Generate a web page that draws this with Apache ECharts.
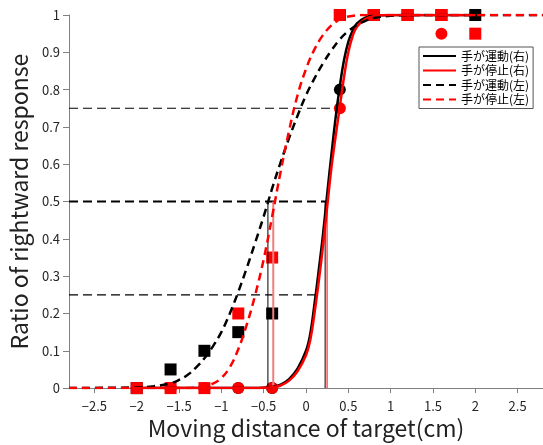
<!DOCTYPE html>
<html>
<head>
<meta charset="utf-8">
<script src="https://cdn.jsdelivr.net/npm/echarts@6/dist/echarts.min.js"></script>
<style>
html, body { margin: 0; padding: 0; background: #fff; }
#chart { width: 543px; height: 445px; }
</style>
</head>
<body>
<div id="chart"></div>
<script>
// Axis ticks
const xTicks = [-2.5, -2, -1.5, -1, -0.5, 0, 0.5, 1, 1.5, 2, 2.5];
const yTicks = [0, 0.1, 0.2, 0.3, 0.4, 0.5, 0.6, 0.7, 0.8, 0.9, 1];

// Measured response ratios at each target displacement
const stimX = [-2, -1.6, -1.2, -0.8, -0.4, 0.4, 0.8, 1.2, 1.6, 2];
const movingRightObs = [0, 0, 0, 0, 0, 0.8, 1, 1, 1, 1];
const stoppedRightObs = [0, 0, 0, 0, 0, 0.75, 1, 1, 0.95, 1];
const movingLeftObs = [0, 0.05, 0.1, 0.15, 0.2, 1, 1, 1, 1, 1];
const stoppedLeftObs = [0, 0, 0, 0.2, 0.35, 1, 1, 1, 1, 0.95];

// Fitted psychometric curves, [x, ratio]
const movingRightCurve = [[-2, 0], [-0.6, 0], [-0.5, 0.001], [-0.4, 0.003], [-0.3, 0.009], [-0.2, 0.024],
  [-0.1, 0.052], [0, 0.1], [0.05, 0.145], [0.1, 0.225], [0.15, 0.315], [0.2, 0.41], [0.25, 0.52],
  [0.3, 0.625], [0.35, 0.725], [0.4, 0.81], [0.45, 0.88], [0.5, 0.928], [0.55, 0.958], [0.6, 0.977],
  [0.7, 0.993], [0.8, 0.998], [1, 1], [2, 1]];
const stoppedRightCurve = [[-2, 0], [-0.6, 0], [-0.5, 0.001], [-0.4, 0.002], [-0.3, 0.007], [-0.2, 0.02],
  [-0.1, 0.045], [0, 0.088], [0.05, 0.128], [0.1, 0.2], [0.15, 0.285], [0.2, 0.38], [0.25, 0.485],
  [0.3, 0.59], [0.35, 0.675], [0.4, 0.755], [0.45, 0.835], [0.5, 0.9], [0.55, 0.943], [0.6, 0.968],
  [0.7, 0.989], [0.8, 0.997], [1, 1], [2, 1]];
const movingLeftCurve = [[-2.8, 0], [-2, 0.002], [-1.8, 0.005], [-1.6, 0.013], [-1.5, 0.022], [-1.4, 0.035],
  [-1.3, 0.055], [-1.2, 0.08], [-1.1, 0.112], [-1, 0.15], [-0.9, 0.2], [-0.8, 0.258], [-0.7, 0.322],
  [-0.6, 0.39], [-0.5, 0.46], [-0.4, 0.535], [-0.3, 0.605], [-0.2, 0.67], [-0.1, 0.73], [0, 0.785],
  [0.1, 0.83], [0.2, 0.87], [0.3, 0.905], [0.4, 0.935], [0.5, 0.957], [0.6, 0.973], [0.7, 0.984],
  [0.8, 0.992], [1, 0.998], [1.3, 1], [2.8, 1]];
const stoppedLeftCurve = [[-2.8, 0], [-1.4, 0], [-1.3, 0.002], [-1.2, 0.005], [-1.1, 0.012], [-1, 0.027],
  [-0.9, 0.056], [-0.8, 0.104], [-0.7, 0.17], [-0.6, 0.25], [-0.5, 0.345], [-0.4, 0.46], [-0.3, 0.58],
  [-0.2, 0.69], [-0.1, 0.785], [0, 0.855], [0.1, 0.908], [0.2, 0.946], [0.3, 0.972], [0.4, 0.988],
  [0.5, 0.996], [0.7, 1], [2.8, 1]];

// Guide levels and the point-of-subjective-equality markers
const guideLevels = [0.25, 0.5, 0.75];
const guideEnds = [0.109, 0.26, 0.37];
const guideWidths = [1.2, 2, 1.2];
const pseX = [-0.45, -0.387, 0.226, 0.249];
const pseColors = ['#000000', '#f08080', '#000000', '#ff0000'];
const pseWidths = [1, 2, 1, 1];

const seriesNames = ['手が運動(右)', '手が停止(右)', '手が運動(左)', '手が停止(左)'];

const xMin = -2.8, xMax = 2.8;
const font = '"Noto Sans CJK JP", "Noto Sans", sans-serif';

const series = [];

guideLevels.forEach((lv, i) => {
  series.push({
    type: 'line', silent: true, symbol: 'none', animation: false,
    data: [[xMin, lv], [guideEnds[i], lv]],
    lineStyle: { color: '#000', width: guideWidths[i], type: [9, 5] }
  });
});
pseX.forEach((px, i) => {
  series.push({
    type: 'line', silent: true, symbol: 'none', animation: false,
    data: [[px, 0], [px, 0.5]],
    lineStyle: { color: pseColors[i], width: pseWidths[i] }
  });
});

const curveDefs = [
  [movingRightCurve, '#000000', 'solid'],
  [stoppedRightCurve, '#ff0000', 'solid'],
  [movingLeftCurve, '#000000', [8, 5]],
  [stoppedLeftCurve, '#ff0000', [8, 5]]
];
curveDefs.forEach((c, i) => {
  series.push({
    name: seriesNames[i], type: 'line', symbol: 'none', animation: false,
    smooth: 0.4,
    data: c[0],
    itemStyle: { color: c[1] },
    lineStyle: { color: c[1], width: 2.5, type: c[2] }
  });
});

const pointDefs = [
  [movingRightObs, '#000000', 'circle'],
  [stoppedRightObs, '#ff0000', 'circle'],
  [movingLeftObs, '#000000', 'rect'],
  [stoppedLeftObs, '#ff0000', 'rect']
];
pointDefs.forEach(p => {
  series.push({
    type: 'scatter', silent: true, animation: false,
    symbol: p[2], symbolSize: 12,
    data: stimX.map((x, k) => [x, p[0][k]]),
    itemStyle: { color: p[1], opacity: 1 }
  });
});

const chart = echarts.init(document.getElementById('chart'), null, { renderer: 'canvas' });
chart.setOption({
  backgroundColor: '#ffffff',
  animation: false,
  grid: { left: 66.5, top: 15, width: 478, height: 373.5, containLabel: false },
  legend: {
    data: seriesNames,
    orient: 'vertical',
    left: 419, top: 47,
    padding: [3, 4, 3, 3],
    itemWidth: 33, itemHeight: 12, itemGap: 2.5,
    itemStyle: { opacity: 0 },
    backgroundColor: '#ffffff',
    borderColor: '#555555', borderWidth: 1,
    textStyle: { fontFamily: font, fontSize: 12, color: '#000' }
  },
  xAxis: {
    type: 'value', min: xMin, max: xMax,
    name: 'Moving distance of target(cm)',
    nameLocation: 'middle', nameGap: 25,
    nameTextStyle: { fontFamily: font, fontSize: 23, color: '#222' },
    axisLine: { onZero: false, lineStyle: { color: '#808080', width: 1 } },
    axisTick: { show: true, inside: false, length: 5, customValues: xTicks, lineStyle: { color: '#808080' } },
    axisLabel: {
      customValues: xTicks, margin: 11, fontFamily: font, fontSize: 13, color: '#262626',
      formatter: v => String(v).replace('-', '\u2212')
    },
    splitLine: { show: false }
  },
  yAxis: {
    type: 'value', min: 0, max: 1,
    name: 'Ratio of rightward response',
    nameLocation: 'middle', nameGap: 38, nameRotate: 90,
    nameTextStyle: { fontFamily: font, fontSize: 23, color: '#222' },
    axisLine: { show: true, onZero: false, lineStyle: { color: '#808080', width: 1 } },
    axisTick: { show: true, inside: false, length: 6, customValues: yTicks, lineStyle: { color: '#808080' } },
    axisLabel: {
      customValues: yTicks, margin: 9, fontFamily: font, fontSize: 13, color: '#262626',
      formatter: v => String(+v.toFixed(1))
    },
    splitLine: { show: false }
  },
  series: series
});
</script>
</body>
</html>
